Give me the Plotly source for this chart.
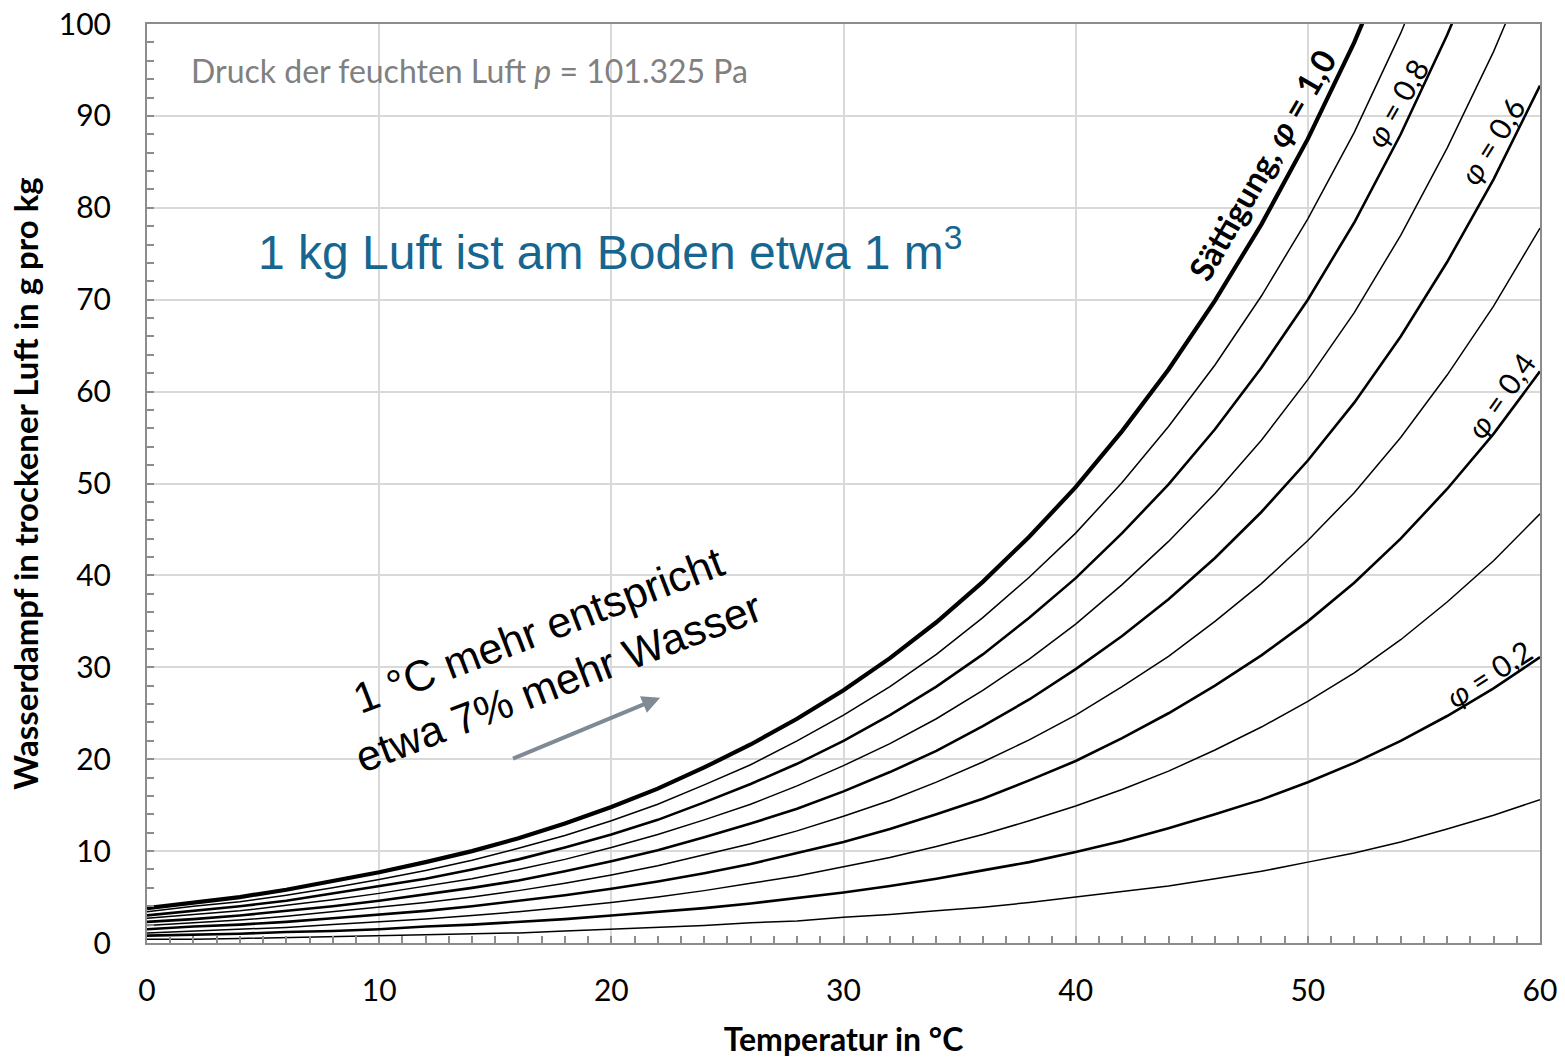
import plotly.graph_objects as go

temperature = list(range(0, 62, 2))

phi_10 = [3.8, 4.4, 5.0, 5.8, 6.7, 7.7, 8.8, 10.0, 11.4, 13.0, 14.8, 16.8, 19.1, 21.6, 24.4, 27.5,
          31.0, 34.9, 39.3, 44.2, 49.6, 55.7, 62.4, 69.9, 78.2, 87.5, 98.0, 110.0]
phi_09 = [3.4, 4.0, 4.5, 5.2, 6.0, 6.9, 7.9, 9.0, 10.3, 11.7, 13.3, 15.1, 17.2, 19.4, 22.0, 24.8,
          27.9, 31.4, 35.4, 39.8, 44.6, 50.1, 56.2, 62.9, 70.4, 78.8, 88.2, 99.0, 111.2]
phi_08 = [3.0, 3.5, 4.0, 4.6, 5.4, 6.2, 7.0, 8.0, 9.1, 10.4, 11.8, 13.4, 15.3, 17.3, 19.5, 22.0,
          24.8, 27.9, 31.4, 35.4, 39.7, 44.6, 49.9, 55.9, 62.6, 70.0, 78.4, 88.0, 98.8, 110.8]
phi_07 = [2.7, 3.1, 3.5, 4.1, 4.7, 5.4, 6.2, 7.0, 8.0, 9.1, 10.4, 11.8, 13.4, 15.1, 17.1, 19.3,
          21.7, 24.4, 27.5, 30.9, 34.7, 39.0, 43.7, 48.9, 54.7, 61.3, 68.6, 77.0, 86.5, 97.0, 108.9]
phi_06 = [2.3, 2.6, 3.0, 3.5, 4.0, 4.6, 5.3, 6.0, 6.8, 7.8, 8.9, 10.1, 11.5, 13.0, 14.6, 16.5,
          18.6, 20.9, 23.6, 26.5, 29.8, 33.4, 37.4, 41.9, 46.9, 52.5, 58.8, 66.0, 74.1, 83.1, 93.3]
phi_05 = [1.9, 2.2, 2.5, 2.9, 3.4, 3.9, 4.4, 5.0, 5.7, 6.5, 7.4, 8.4, 9.6, 10.8, 12.2, 13.8,
          15.5, 17.5, 19.7, 22.1, 24.8, 27.9, 31.2, 35.0, 39.1, 43.8, 49.0, 55.0, 61.8, 69.3, 77.8]
phi_04 = [1.5, 1.8, 2.0, 2.3, 2.7, 3.1, 3.5, 4.0, 4.6, 5.2, 5.9, 6.7, 7.6, 8.6, 9.8, 11.0,
          12.4, 14.0, 15.7, 17.7, 19.8, 22.3, 25.0, 28.0, 31.3, 35.0, 39.2, 44.0, 49.4, 55.4, 62.2]
phi_03 = [1.1, 1.3, 1.5, 1.7, 2.0, 2.3, 2.6, 3.0, 3.4, 3.9, 4.4, 5.0, 5.7, 6.5, 7.3, 8.3,
          9.3, 10.5, 11.8, 13.3, 14.9, 16.7, 18.7, 21.0, 23.5, 26.3, 29.4, 33.0, 37.1, 41.6, 46.7]
phi_02 = [0.8, 0.9, 1.0, 1.2, 1.3, 1.5, 1.8, 2.0, 2.3, 2.6, 3.0, 3.4, 3.8, 4.3, 4.9, 5.5,
          6.2, 7.0, 7.9, 8.8, 9.9, 11.1, 12.5, 14.0, 15.6, 17.5, 19.6, 22.0, 24.7, 27.7, 31.1]
phi_01 = [0.4, 0.4, 0.5, 0.6, 0.7, 0.8, 0.9, 1.0, 1.1, 1.3, 1.5, 1.7, 1.9, 2.2, 2.4, 2.8,
          3.1, 3.5, 3.9, 4.4, 5.0, 5.6, 6.2, 7.0, 7.8, 8.8, 9.8, 11.0, 12.4, 13.9, 15.6]

series = [
    ("φ = 1,0", phi_10, 4.2),
    ("φ = 0,9", phi_09, 1.5),
    ("φ = 0,8", phi_08, 2.6),
    ("φ = 0,7", phi_07, 1.5),
    ("φ = 0,6", phi_06, 2.6),
    ("φ = 0,5", phi_05, 1.5),
    ("φ = 0,4", phi_04, 2.6),
    ("φ = 0,3", phi_03, 1.5),
    ("φ = 0,2", phi_02, 2.6),
    ("φ = 0,1", phi_01, 1.5),
]

x_ticks = [0, 10, 20, 30, 40, 50, 60]
y_ticks = [0, 10, 20, 30, 40, 50, 60, 70, 80, 90, 100]

fig = go.Figure()
for name, vals, w in series:
    fig.add_trace(go.Scatter(x=temperature[:len(vals)], y=vals, mode="lines", name=name,
                             line=dict(color="black", width=w), showlegend=False))

font_main = "Lato, 'Open Sans', sans-serif"
axis_common = dict(showline=True, linecolor="#8c8c8c", linewidth=2, mirror=True,
                   showgrid=True, gridcolor="#d9d9d9", gridwidth=2, zeroline=False,
                   ticks="inside", ticklen=7, tickcolor="#8c8c8c", tickwidth=1.5,
                   automargin=False, ticklabeloverflow="allow",
                   tickfont=dict(family=font_main, size=30, color="black"))

fig.update_layout(
    width=1565, height=1058,
    margin=dict(l=147, r=25, t=24, b=115),
    paper_bgcolor="white", plot_bgcolor="white",
    font=dict(family=font_main, color="black"),
    xaxis=dict(range=[0, 60], tickvals=x_ticks, ticklabelstandoff=20,
               minor=dict(dtick=1, ticks="inside", ticklen=7, tickcolor="#8c8c8c", showgrid=False),
               title=dict(text="<b>Temperatur in °C</b>", font=dict(family=font_main, size=32), standoff=27),
               **axis_common),
    yaxis=dict(range=[0, 100], tickvals=y_ticks, ticklabelstandoff=28,
               minor=dict(dtick=2, ticks="inside", ticklen=7, tickcolor="#8c8c8c", showgrid=False),
               title=dict(text="<b>Wasserdampf in trockener Luft in g pro kg</b>",
                          font=dict(family=font_main, size=33), standoff=10),
               **axis_common),
)

annots = [
    dict(x=1.8, y=94.9, text="Druck der feuchten Luft <i>p</i> = 101.325 Pa", xanchor="left",
         yanchor="middle", font=dict(family=font_main, size=32, color="#808080")),
    dict(x=4.7, y=75.5, text="1 kg Luft ist am Boden etwa 1 m<sup>3</sup>", xanchor="left",
         yanchor="middle", font=dict(family="Liberation Sans, Arial", size=48, color="#17668f")),
    dict(x=17.3, y=31.2, text="1 °C mehr entspricht<br>etwa 7% mehr Wasser", textangle=-21,
         font=dict(family="Liberation Sans, Arial", size=43, color="black")),
    dict(x=48.0, y=84.7, text="<b>Sättigung, <i>φ</i> = 1,0</b>", textangle=-60,
         font=dict(family=font_main, size=33, color="black")),
    dict(x=53.8, y=91.4, text="<i>φ</i> = 0,8", textangle=-60,
         font=dict(family=font_main, size=30, color="black")),
    dict(x=57.9, y=87.3, text="<i>φ</i> = 0,6", textangle=-58,
         font=dict(family=font_main, size=30, color="black")),
    dict(x=58.3, y=59.6, text="<i>φ</i> = 0,4", textangle=-55,
         font=dict(family=font_main, size=30, color="black")),
    dict(x=57.8, y=29.4, text="<i>φ</i> = 0,2", textangle=-33,
         font=dict(family=font_main, size=30, color="black")),
]
for a in annots:
    fig.add_annotation(showarrow=False, xref="x", yref="y", **a)

fig.add_annotation(x=22.1, y=26.7, ax=15.7, ay=20.0, xref="x", yref="y", axref="x", ayref="y",
                   showarrow=True, arrowhead=2, arrowsize=0.9, arrowwidth=4, arrowcolor="#7f8a94", text="")

fig.write_html("out.html", config={"displayModeBar": False},
               post_script="document.body.style.margin='0px';")
